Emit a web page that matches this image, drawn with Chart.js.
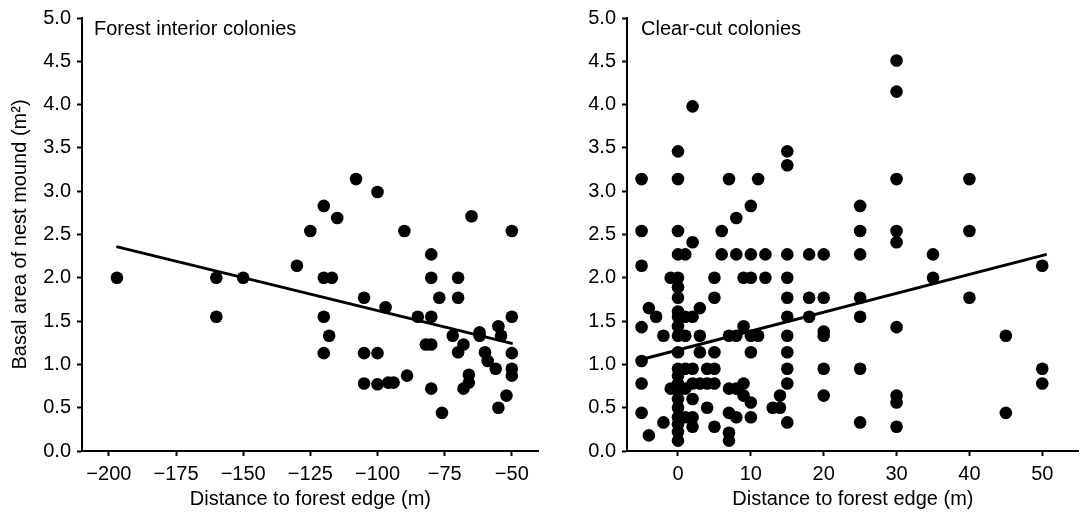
<!DOCTYPE html>
<html>
<head>
<meta charset="utf-8">
<script src="https://cdn.jsdelivr.net/npm/chart.js@4"></script>
<style>
html,body{margin:0;padding:0;background:#fff;}
#wrap{position:relative;width:1085px;height:514px;overflow:hidden;}
.panel{position:absolute;top:0;height:514px;}
#p1{left:0;width:545px;}
#p2{left:545px;width:540px;}
</style>
</head>
<body>
<div id="wrap">
  <div class="panel" id="p1"><canvas id="c1" width="545" height="514"></canvas></div>
  <div class="panel" id="p2"><canvas id="c2" width="540" height="514"></canvas></div>
</div>
<script>
// ---------- DATA ----------
const panelTitles = ['Forest interior colonies', 'Clear-cut colonies'];
const xAxisTitle = 'Distance to forest edge (m)';
const yAxisTitle = 'Basal area of nest mound (m\u00B2)';

const yTicks = [0, 0.5, 1, 1.5, 2, 2.5, 3, 3.5, 4, 4.5, 5];
const interiorXTicks = [-200, -175, -150, -125, -100, -75, -50];
const clearcutXTicks = [0, 10, 20, 30, 40, 50];

// Forest interior colonies
const interiorDistance = [-197, -160, -160, -150, -130, -125, -120, -120, -117, -120, -118, -120, -115, -108, -100,
  -105, -105, -100, -105, -100, -96, -94, -97, -90, -89, -85, -80, -80, -80, -82, -80, -80, -77, -76, -72,
  -70, -70, -70, -68, -68, -66, -66, -65, -62, -62, -60, -59, -56, -55, -54, -55, -52, -50, -50, -50, -50, -50];
const interiorArea = [2.00, 2.00, 1.55, 2.00, 2.14, 2.54, 2.83, 2.00, 2.00, 1.55, 1.33, 1.13, 2.69, 3.14, 2.99,
  1.77, 1.13, 1.13, 0.78, 0.77, 0.79, 0.79, 1.66, 2.54, 0.87, 1.55, 2.27, 2.00, 1.55, 1.23, 1.23, 0.72, 1.77, 0.44, 1.33,
  2.00, 1.77, 1.14, 1.23, 0.72, 0.88, 0.79, 2.71, 1.37, 1.33, 1.14, 1.04, 0.95, 1.44, 1.33, 0.50, 0.64, 2.54, 1.55, 1.13, 0.95, 0.87];
const interiorTrendDistance = [-197.2, -49.7];
const interiorTrendArea = [2.36, 1.24];

// Clear-cut colonies
const clearcutDistance = [
  -5, -5, -5, -5, -5, -5, -5,
  -4, -4, -3, -2, -2, -1, -1,
  0, 0, 0, 0, 0, 0, 0, 0, 0, 0, 0, 0, 0, 0, 0, 0, 0, 0, 0, 0, 0, 0,
  1, 1, 1, 1, 1, 1,
  2, 2, 2, 2, 2, 2, 2, 2,
  3, 3, 3, 3,
  4, 4, 4,
  5, 5, 5, 5, 5, 5,
  6, 6,
  7, 7, 7, 7, 7, 7,
  8, 8, 8, 8, 8,
  9, 9, 9, 9,
  10, 10, 10, 10, 10, 10, 10,
  11, 11,
  12, 12,
  13,
  14, 14,
  15, 15, 15, 15, 15, 15, 15, 15, 15, 15, 15,
  18, 18, 18,
  20, 20, 20, 20, 20, 20,
  25, 25, 25, 25, 25, 25, 25,
  30, 30, 30, 30, 30, 30, 30, 30, 30,
  35, 35,
  40, 40, 40,
  45, 45,
  50, 50, 50];
const clearcutArea = [
  3.14, 2.54, 2.14, 1.43, 1.04, 0.78, 0.44,
  0.18, 1.65, 1.55, 1.33, 0.33, 2.00, 0.72,
  3.46, 3.14, 2.54, 2.27, 2.00, 1.89, 1.77, 1.61, 1.55, 1.44, 1.33, 1.14, 0.95, 0.87, 0.78, 0.70, 0.60, 0.50, 0.39, 0.31, 0.22, 0.12,
  2.27, 1.55, 1.33, 0.95, 0.72, 0.39,
  3.98, 2.41, 1.55, 0.95, 0.78, 0.60, 0.39, 0.28,
  1.65, 1.33, 1.14, 0.78,
  0.95, 0.78, 0.50,
  2.00, 1.77, 1.14, 0.95, 0.78, 0.28,
  2.54, 2.27,
  3.14, 1.33, 0.72, 0.44, 0.21, 0.12,
  2.69, 2.27, 1.33, 0.72, 0.39,
  2.00, 1.44, 0.78, 0.64,
  2.83, 2.27, 2.00, 1.33, 1.14, 0.56, 0.39,
  3.14, 1.33,
  2.27, 2.00,
  0.50,
  0.64, 0.50,
  3.46, 3.30, 2.27, 2.00, 1.77, 1.55, 1.33, 1.14, 0.95, 0.78, 0.33,
  2.27, 1.77, 1.55,
  2.27, 1.77, 1.38, 1.33, 0.95, 0.64,
  2.83, 2.54, 2.27, 1.77, 1.55, 0.95, 0.33,
  4.51, 4.15, 3.14, 2.54, 2.41, 1.43, 0.64, 0.56, 0.28,
  2.27, 2.00,
  3.14, 2.54, 1.77,
  1.33, 0.44,
  2.14, 0.95, 0.78];
const clearcutTrendDistance = [-4.9, 50.6];
const clearcutTrendArea = [1.06, 2.27];

// ---------- CHART ----------
Chart.defaults.font.family = '"Liberation Sans", Arial, Helvetica, sans-serif';
Chart.defaults.color = '#000';

const FONT_SIZE = 20;

function fmtX(v) {
  return v < 0 ? '\u2212' + Math.abs(v) : String(v);
}

const panelLabel = {
  id: 'panelLabel',
  afterDraw(chart, args, opts) {
    const ctx = chart.ctx;
    const a = chart.chartArea;
    ctx.save();
    ctx.font = FONT_SIZE + 'px "Liberation Sans", Arial, sans-serif';
    ctx.fillStyle = '#000';
    ctx.textAlign = 'left';
    ctx.textBaseline = 'alphabetic';
    ctx.fillText(opts.text, a.left + opts.dx, a.top + opts.dy);
    ctx.restore();
  }
};

function makeChart(canvasId, xs, ys, tx, ty, xTicks, xmin, xmax, label, labelDx, showYTitle, padRight) {
  const pts = xs.map((x, i) => ({ x: x, y: ys[i] }));
  const trend = tx.map((x, i) => ({ x: x, y: ty[i] }));
  return new Chart(document.getElementById(canvasId), {
    type: 'scatter',
    data: {
      datasets: [
        {
          type: 'line',
          data: trend,
          borderColor: '#000',
          borderWidth: 3,
          pointRadius: 0,
          fill: false,
          order: 0
        },
        {
          type: 'scatter',
          data: pts,
          backgroundColor: '#000',
          borderColor: '#000',
          borderWidth: 0,
          pointRadius: 6.3,
          pointHoverRadius: 6.3,
          order: 1
        }
      ]
    },
    options: {
      responsive: false,
      animation: false,
      devicePixelRatio: 1,
      layout: { padding: { left: 0, top: 15, right: padRight, bottom: 0 } },
      plugins: {
        legend: { display: false },
        tooltip: { enabled: false },
        panelLabel: { text: label, dx: labelDx, dy: 16.5 }
      },
      scales: {
        x: {
          type: 'linear',
          min: xmin,
          max: xmax,
          afterBuildTicks: s => { s.ticks = xTicks.map(v => ({ value: v })); },
          afterFit: s => { s.height = 63; },
          ticks: {
            callback: v => fmtX(v),
            font: { size: FONT_SIZE },
            color: '#000',
            padding: 6,
            maxRotation: 0,
            autoSkip: false
          },
          grid: { drawOnChartArea: false, drawTicks: true, tickLength: 5, tickWidth: 2, tickColor: '#000' },
          border: { display: true, color: '#000', width: 2 },
          title: { display: true, text: xAxisTitle, font: { size: FONT_SIZE }, color: '#000', padding: { top: 0, bottom: 3 } }
        },
        y: {
          type: 'linear',
          min: 0,
          max: 5,
          afterBuildTicks: s => { s.ticks = yTicks.map(v => ({ value: v })); },
          afterFit: s => { s.width = 82; },
          ticks: {
            callback: v => Number(v).toFixed(1),
            font: { size: FONT_SIZE },
            color: '#000',
            padding: 6
          },
          grid: { drawOnChartArea: false, drawTicks: true, tickLength: 5, tickWidth: 2, tickColor: '#000' },
          border: { display: true, color: '#000', width: 2 },
          title: { display: showYTitle, text: yAxisTitle, font: { size: FONT_SIZE }, color: '#000', padding: { top: 8, bottom: 0 } }
        }
      }
    },
    plugins: [panelLabel]
  });
}

makeChart('c1', interiorDistance, interiorArea, interiorTrendDistance, interiorTrendArea,
  interiorXTicks, -210, -40, panelTitles[0], 12, true, 4);
makeChart('c2', clearcutDistance, clearcutArea, clearcutTrendDistance, clearcutTrendArea,
  clearcutXTicks, -7, 55, panelTitles[1], 14, false, 0);
</script>
</body>
</html>
